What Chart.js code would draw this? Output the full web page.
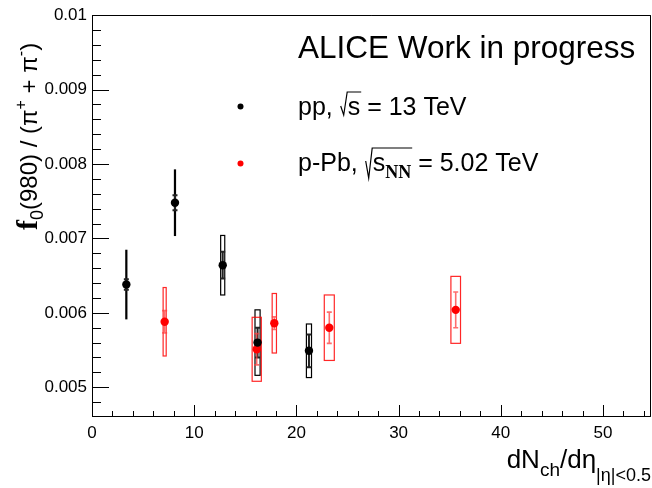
<!DOCTYPE html>
<html>
<head>
<meta charset="utf-8">
<script src="https://cdn.jsdelivr.net/npm/chart.js@4.4.0/dist/chart.umd.min.js"></script>
<style>
  html, body { margin: 0; padding: 0; background: #fff; }
  #wrap { position: relative; width: 652px; height: 488px; }
  #wrap canvas { position: absolute; left: 0; top: 0; }
  #axes { pointer-events: none; }
</style>
</head>
<body>
<div id="wrap">
  <canvas id="ratio" width="652" height="488"></canvas>
  <canvas id="axes" width="652" height="488"></canvas>
</div>
<script>
// pp, sqrt(s) = 13 TeV
const ppX = [3.36, 8.12, 12.79, 16.2, 21.23];
const ppY = [0.00638, 0.00748, 0.00664, 0.00560, 0.00549];
const ppStat = [0.00007, 0.0001, 0.00018, 0.0002, 0.00022];
const ppSyst = [0.00046, 0.00044, 0.0004, 0.00044, 0.00036];
const ppSystDx = [0.05, 0.05, 0.2, 0.25, 0.25];

// p-Pb, sqrt(sNN) = 5.02 TeV
const pPbX = [7.11, 16.12, 17.84, 23.22, 35.59];
const pPbY = [0.00588, 0.00551, 0.00586, 0.00580, 0.00604];
const pPbStat = [0.00015, 0.00021, 0.000085, 0.00021, 0.00024];
const pPbSyst = [0.00046, 0.00043, 0.0004, 0.00044, 0.00045];
const pPbSystDx = [0.15, 0.45, 0.21, 0.49, 0.47];

const xTicks = [0, 10, 20, 30, 40, 50];
const yTicks = [0.005, 0.006, 0.007, 0.008, 0.009, 0.01];

const SANS = 'Liberation Sans, Arial, sans-serif';
const SERIF = 'Liberation Serif, Times New Roman, serif';

// draws a list of [text, font, dy] pieces one after the other, returns end x
function drawRuns(ctx, parts, x, y) {
  let cx = x;
  parts.forEach(p => {
    ctx.font = p[1];
    ctx.fillText(p[0], cx, y + (p[2] || 0));
    cx += ctx.measureText(p[0]).width;
  });
  return cx;
}
function runsWidth(ctx, parts) {
  let w = 0;
  parts.forEach(p => { ctx.font = p[1]; w += ctx.measureText(p[0]).width; });
  return w;
}

// frame and inward ticks: y major every 0.001 / minor 0.0002, x major every 10 / minor 2
function drawFrame(ctx, chart) {
  const xs = chart.scales.x, ys = chart.scales.y, a = chart.chartArea;
  const L = Math.round(a.left), R = Math.round(a.right);
  const T = Math.round(a.top), B = Math.round(a.bottom);
  ctx.save();
  ctx.strokeStyle = '#000';
  ctx.lineWidth = 1;
  ctx.beginPath();
  ctx.rect(L + 0.5, T + 0.5, R - L - 1, B - T - 1);
  for (let k = 24; k <= 50; k++) {
    const py = Math.round(ys.getPixelForValue(k * 0.0002)) + 0.5;
    ctx.moveTo(L, py);
    ctx.lineTo(L + ((k % 5 === 0) ? 17 : 9), py);
  }
  for (let k = 0; k <= 27; k++) {
    const px = Math.round(xs.getPixelForValue(k * 2)) + 0.5;
    ctx.moveTo(px, B);
    ctx.lineTo(px, B - ((k % 5 === 0) ? 12 : 6));
  }
  ctx.stroke();
  ctx.restore();
}

// syst boxes and stat bars under the markers
const errorBars = {
  id: 'errorBars',
  beforeDatasetsDraw(chart) {
    const ctx = chart.ctx, xs = chart.scales.x, ys = chart.scales.y;
    ctx.save();
    function drawSeries(X, Y, stat, syst, dx, boxColor, statColor, statWidth) {
      for (let i = 0; i < X.length; i++) {
        const px = xs.getPixelForValue(X[i]);
        const x0 = xs.getPixelForValue(X[i] - dx[i]);
        const x1 = xs.getPixelForValue(X[i] + dx[i]);
        const hi = ys.getPixelForValue(Y[i] + syst[i]);
        const lo = ys.getPixelForValue(Y[i] - syst[i]);
        ctx.strokeStyle = boxColor;
        ctx.lineWidth = 1.2;
        ctx.strokeRect(x0, hi, x1 - x0, lo - hi);

        const st = ys.getPixelForValue(Y[i] + stat[i]);
        const sb = ys.getPixelForValue(Y[i] - stat[i]);
        ctx.strokeStyle = statColor;
        ctx.lineWidth = statWidth;
        ctx.beginPath();
        ctx.moveTo(px, st); ctx.lineTo(px, sb);
        ctx.moveTo(px - 2.5, st); ctx.lineTo(px + 2.5, st);
        ctx.moveTo(px - 2.5, sb); ctx.lineTo(px + 2.5, sb);
        ctx.stroke();
      }
    }
    drawSeries(ppX, ppY, ppStat, ppSyst, ppSystDx, '#000', '#222', 2);
    drawSeries(pPbX, pPbY, pPbStat, pPbSyst, pPbSystDx, 'rgba(255,0,0,0.85)', 'rgba(255,60,60,0.75)', 1.6);
    ctx.restore();
  },
  afterDraw(chart) {
    drawFrame(chart.ctx, chart);
  }
};

// header, legend and axis titles
const textBlock = {
  id: 'textBlock',
  afterDraw(chart) {
    const ctx = chart.ctx;
    const a = chart.chartArea;
    ctx.save();
    ctx.fillStyle = '#000';
    ctx.strokeStyle = '#000';
    ctx.textAlign = 'left';
    ctx.textBaseline = 'alphabetic';

    ctx.font = '31.5px ' + SANS;
    ctx.fillText('ALICE Work in progress', 298, 58);

    ctx.beginPath(); ctx.arc(240.5, 106.5, 3, 0, Math.PI * 2); ctx.fill();
    ctx.fillStyle = '#ff0000';
    ctx.beginPath(); ctx.arc(240.5, 163.5, 3, 0, Math.PI * 2); ctx.fill();
    ctx.fillStyle = '#000';

    const lf = '25px ' + SANS;
    // pp entry
    let cx = drawRuns(ctx, [['pp, ', lf]], 298, 115);
    let r0 = cx + 1;
    ctx.lineWidth = 1.2;
    ctx.font = lf;
    const sW = ctx.measureText('s').width;
    cx = r0 + 7;
    ctx.beginPath();
    ctx.moveTo(r0, 106); ctx.lineTo(r0 + 3, 115); ctx.lineTo(r0 + 6.5, 92);
    ctx.lineTo(cx + sW + 1, 92);
    ctx.stroke();
    ctx.fillText('s', cx, 115);
    drawRuns(ctx, [[' = 13 TeV', lf]], cx + sW, 115);

    // p-Pb entry
    cx = drawRuns(ctx, [['p-Pb, ', lf]], 298, 171);
    r0 = cx + 1;
    cx = r0 + 7;
    const nnParts = [['s', lf], ['NN', 'bold 18px ' + SERIF, 7]];
    const nnW = runsWidth(ctx, nnParts);
    ctx.beginPath();
    ctx.moveTo(r0, 161); ctx.lineTo(r0 + 3, 178); ctx.lineTo(r0 + 6.5, 148);
    ctx.lineTo(cx + nnW + 1, 148);
    ctx.stroke();
    cx = drawRuns(ctx, nnParts, cx, 171);
    drawRuns(ctx, [[' = 5.02 TeV', lf]], cx, 171);

    // x title
    const xTitle = [
      ['dN', '26px ' + SANS],
      ['ch', '19px ' + SANS, 8],
      ['/d\u03b7', '26px ' + SANS],
      ['|\u03b7|<0.5', '18px ' + SANS, 13]
    ];
    drawRuns(ctx, xTitle, a.right - runsWidth(ctx, xTitle), 468);

    // y title, rotated
    const yTitle = [
      ['f', 'bold 30px ' + SERIF],
      ['0', '18px ' + SANS, 6],
      ['(980) / (\u03c0', '24px ' + SANS],
      ['+', '16px ' + SANS, -11],
      [' + \u03c0', '24px ' + SANS],
      ['-', '16px ' + SANS, -11],
      [')', '24px ' + SANS]
    ];
    ctx.translate(37, 230);
    ctx.rotate(-Math.PI / 2);
    drawRuns(ctx, yTitle, 0, 0);
    ctx.restore();
  }
};

const chart = new Chart(document.getElementById('ratio'), {
  type: 'scatter',
  data: {
    datasets: [
      {
        label: 'pp',
        data: ppX.map((x, i) => ({ x: x, y: ppY[i] })),
        backgroundColor: '#000',
        pointRadius: 4.2,
        pointBorderWidth: 0
      },
      {
        label: 'p-Pb',
        data: pPbX.map((x, i) => ({ x: x, y: pPbY[i] })),
        backgroundColor: '#ff0000',
        pointRadius: 4.2,
        pointBorderWidth: 0
      }
    ]
  },
  options: {
    responsive: false,
    animation: false,
    events: [],
    layout: { autoPadding: false, padding: { top: 15, right: 1, left: 0, bottom: 0 } },
    plugins: { legend: { display: false }, tooltip: { enabled: false } },
    scales: {
      x: {
        type: 'linear',
        min: 0,
        max: 54.7,
        grid: { display: false, drawTicks: false },
        border: { display: false },
        afterBuildTicks: s => { s.ticks = xTicks.map(v => ({ value: v })); },
        afterFit: s => { s.height = 71; },
        ticks: {
          color: '#000',
          padding: 6,
          maxRotation: 0,
          autoSkip: false,
          font: { family: SANS, size: 17 },
          callback: v => String(v)
        }
      },
      y: {
        type: 'linear',
        min: 0.0046,
        max: 0.01,
        grid: { display: false, drawTicks: false },
        border: { display: false },
        afterBuildTicks: s => { s.ticks = yTicks.map(v => ({ value: v })); },
        afterFit: s => { s.width = 92; },
        ticks: {
          color: '#000',
          padding: 5,
          autoSkip: false,
          font: { family: SANS, size: 17 },
          callback: v => String(+v.toFixed(4))
        }
      }
    }
  },
  plugins: [errorBars, textBlock]
});

// ticks again on a transparent layer above the chart, from the same scales
drawFrame(document.getElementById('axes').getContext('2d'), chart);
</script>
</body>
</html>
